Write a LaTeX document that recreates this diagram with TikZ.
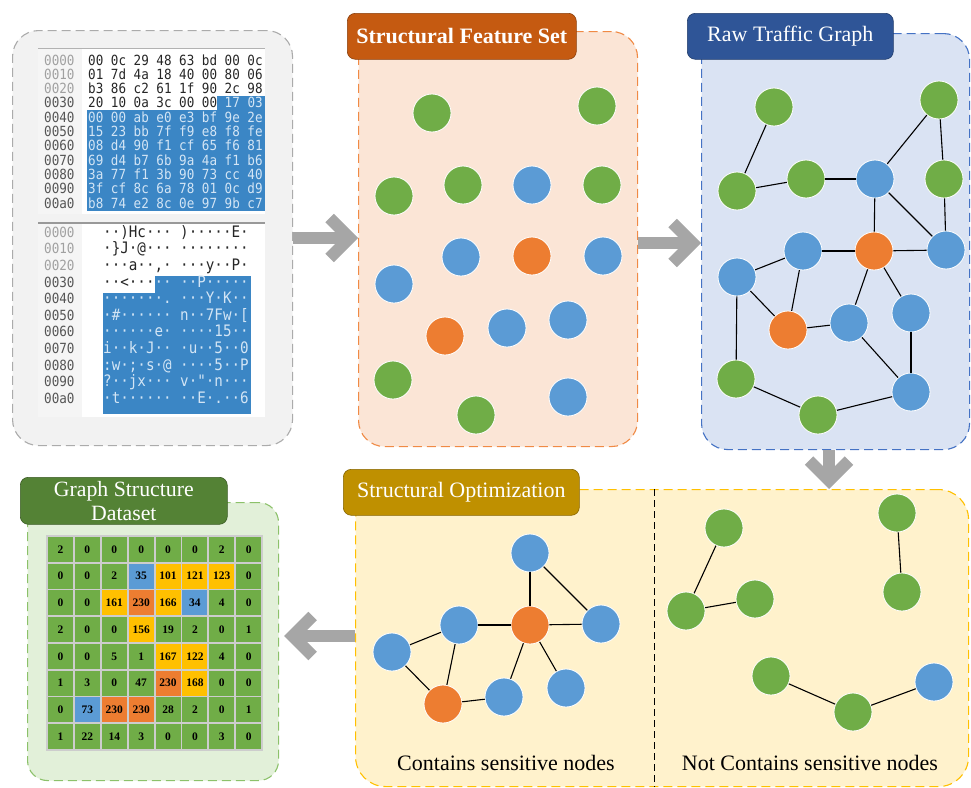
\documentclass[tikz,border=0pt]{standalone}
\usepackage{fontspec}
\setmainfont{Liberation Serif}
\setmonofont{DejaVu Sans Mono}[FakeStretch=0.9]
\usetikzlibrary{arrows.meta}
\definecolor{ngreen}{HTML}{70AD47}
\definecolor{nblue}{HTML}{5B9BD5}
\definecolor{norange}{HTML}{ED7D31}
\definecolor{nyellow}{HTML}{FFC000}
\definecolor{arrowgray}{HTML}{A6A6A6}
\definecolor{hexblue}{HTML}{3B86C5}
\definecolor{hexlight}{HTML}{D3E5F5}
\definecolor{hexdark}{HTML}{262626}
\definecolor{offgray}{HTML}{A0A0A0}
\definecolor{offdark}{HTML}{555555}
\definecolor{grayfill}{HTML}{F2F2F2}
\definecolor{grayline}{HTML}{ABABAB}
\definecolor{orangefill}{HTML}{FBE5D6}
\definecolor{orangeline}{HTML}{F08A45}
\definecolor{bluefill}{HTML}{DAE3F3}
\definecolor{blueline}{HTML}{4472C4}
\definecolor{yellowfill}{HTML}{FFF2CC}
\definecolor{yellowline}{HTML}{FFC000}
\definecolor{greenfill}{HTML}{E2F0D9}
\definecolor{greenline}{HTML}{8CC16A}
\definecolor{tOrange}{HTML}{C55A11}
\definecolor{tBlue}{HTML}{2F5597}
\definecolor{tGold}{HTML}{BF9000}
\definecolor{tGreen}{HTML}{548235}
\definecolor{gridgap}{HTML}{CDCDCD}
\definecolor{cellg}{HTML}{70AD47}
\definecolor{cellb}{HTML}{5B9BD5}
\definecolor{celly}{HTML}{FFC000}
\definecolor{cello}{HTML}{ED7D31}
\begin{document}
\begin{tikzpicture}[x=1pt,y=-1pt]
\tikzset{
  panel/.style={rectangle, rounded corners=26pt, dash pattern=on 9pt off 5pt,
    line width=1.1pt, inner sep=0pt, anchor=north west},
  titlebox/.style={rectangle, rounded corners=8pt, text=white, line width=0.6pt,
    inner sep=0pt, anchor=north west, align=center,
    font=\fontsize{22}{24}\selectfont},
  gnode/.style={circle, draw=white, line width=0.8pt, minimum size=38pt,
    inner sep=0pt, fill=ngreen},
  bnode/.style={gnode, fill=nblue},
  onode/.style={gnode, fill=norange},
  edge/.style={draw=black, line width=1.1pt},
  bigarrow/.style={draw=arrowgray, line width=12pt,
    -{Straight Barb[length=20pt, width=40pt]}},
  hexrow/.style={anchor=base west, inner sep=0pt, text=hexdark,
    font=\ttfamily\fontsize{14}{15}\selectfont},
  ascrow/.style={anchor=base west, inner sep=0pt, text=hexdark,
    font=\ttfamily\fontsize{15.8}{17}\selectfont},
  offrow/.style={anchor=base west, inner sep=0pt, text=offgray,
    font=\ttfamily\fontsize{14}{15}\selectfont},
  cell/.style={rectangle, minimum width=25pt, minimum height=25pt, inner sep=0pt,
    font=\bfseries\fontsize{11.5}{11.5}\selectfont},
  caption/.style={font=\fontsize{22}{24}\selectfont, inner sep=0pt},
}
\useasboundingbox (0,0) rectangle (971,787);

% ---------------- panels ----------------
\node[panel, draw=grayline, fill=grayfill, minimum width=280pt, minimum height=415pt] (p1) at (12,30) {};
\node[panel, draw=orangeline, fill=orangefill, minimum width=279pt, minimum height=415pt] (p2) at (358,31) {};
\node[panel, draw=blueline, fill=bluefill, minimum width=268pt, minimum height=416pt] (p3) at (701,33) {};
\node[panel, draw=yellowline, fill=yellowfill, minimum width=613pt, minimum height=297pt, rounded corners=30pt] (p4) at (355,489) {};
\node[panel, draw=greenline, fill=greenfill, minimum width=251pt, minimum height=278pt, rounded corners=20pt] (p5) at (27,502) {};

% divider in panel 4
\draw[black, line width=1pt, dash pattern=on 7pt off 4pt] (p4.north -| 654,0) -- (p4.south -| 654,0);

% ---------------- titles ----------------
\node[titlebox, fill=tOrange, draw=tOrange!70!black, minimum width=229pt, minimum height=46pt, font=\bfseries\fontsize{22}{24}\selectfont] (t2) at (347,13) {Structural Feature Set};
\node[titlebox, fill=tBlue, draw=tBlue!70!black, minimum width=206pt, minimum height=46pt] (t3) at (687,13) {Raw Traffic Graph};
\node[titlebox, fill=tGold, draw=tGold!70!black, minimum width=236pt, minimum height=46pt] (t4) at (343,469) {Structural Optimization};
\node[titlebox, fill=tGreen, draw=tGreen!70!black, minimum width=207pt, minimum height=47pt, font=\fontsize{21.8}{24}\selectfont] (t5) at (20,477) {Graph Structure\\Dataset};

% ---------------- hex dump (top) ----------------
\fill[white] (38,48) rectangle (265,214);
\fill[black!4] (38,48) rectangle (82,214);
\draw[black!30, line width=1pt] (38,48) -- (265,48);
\fill[hexblue] (217,96) rectangle (265,110);
\fill[hexblue] (87,110) rectangle (265,211);
\node[offrow] (ot0) at (44,65) {0000};
\node[offrow] (ot1) at (44,79.3) {0010};
\node[offrow] (ot2) at (44,93.6) {0020};
\node[offrow, text=offdark] (ot3) at (44,107.9) {0030};
\node[offrow, text=offdark] (ot4) at (44,122.2) {0040};
\node[offrow, text=offdark] (ot5) at (44,136.5) {0050};
\node[offrow, text=offdark] (ot6) at (44,150.8) {0060};
\node[offrow, text=offdark] (ot7) at (44,165.1) {0070};
\node[offrow, text=offdark] (ot8) at (44,179.4) {0080};
\node[offrow, text=offdark] (ot9) at (44,193.7) {0090};
\node[offrow, text=offdark] (ot10) at (44,208.0) {00a0};
\node[hexrow] (ht0) at (88,65) {00 0c 29 48 63 bd 00 0c};
\node[hexrow] (ht1) at (88,79.3) {01 7d 4a 18 40 00 80 06};
\node[hexrow] (ht2) at (88,93.6) {b3 86 c2 61 1f 90 2c 98};
\node[hexrow] (ht3) at (88,107.9) {20 10 0a 3c 00 00 \textcolor{hexlight}{17 03}};
\node[hexrow, text=hexlight] (ht4) at (88,122.2) {00 00 ab e0 e3 bf 9e 2e};
\node[hexrow, text=hexlight] (ht5) at (88,136.5) {15 23 bb 7f f9 e8 f8 fe};
\node[hexrow, text=hexlight] (ht6) at (88,150.8) {08 d4 90 f1 cf 65 f6 81};
\node[hexrow, text=hexlight] (ht7) at (88,165.1) {69 d4 b7 6b 9a 4a f1 b6};
\node[hexrow, text=hexlight] (ht8) at (88,179.4) {3a 77 f1 3b 90 73 cc 40};
\node[hexrow, text=hexlight] (ht9) at (88,193.7) {3f cf 8c 6a 78 01 0c d9};
\node[hexrow, text=hexlight] (ht10) at (88,208.0) {b8 74 e2 8c 0e 97 9b c7};

% ---------------- ascii dump (bottom) ----------------
\fill[white] (38,223) rectangle (265,417);
\fill[black!4] (38,223) rectangle (82,417);
\draw[black!40, line width=2pt] (38,223) -- (265,223);
\fill[hexblue] (155,276) rectangle (251,293);
\fill[hexblue] (103,293) rectangle (251,414);
\node[offrow] (ob0) at (44,237.2) {0000};
\node[offrow] (ob1) at (44,253.8) {0010};
\node[offrow] (ob2) at (44,270.4) {0020};
\node[offrow, text=offdark] (ob3) at (44,287.0) {0030};
\node[offrow, text=offdark] (ob4) at (44,303.6) {0040};
\node[offrow, text=offdark] (ob5) at (44,320.2) {0050};
\node[offrow, text=offdark] (ob6) at (44,336.8) {0060};
\node[offrow, text=offdark] (ob7) at (44,353.4) {0070};
\node[offrow, text=offdark] (ob8) at (44,370.0) {0080};
\node[offrow, text=offdark] (ob9) at (44,386.6) {0090};
\node[offrow, text=offdark] (ob10) at (44,403.2) {00a0};
\node[ascrow] (ab0) at (103,237.2) {··)Hc···~)·····E·};
\node[ascrow] (ab1) at (103,253.8) {·\}J·@···~········};
\node[ascrow] (ab2) at (103,270.4) {···a··,·~···y··P·};
\node[ascrow] (ab3) at (103,287.0) {··<···\textcolor{hexlight}{··~··P·····}};
\node[ascrow, text=hexlight] (ab4) at (103,303.6) {·······.~···Y·K··};
\node[ascrow, text=hexlight] (ab5) at (103,320.2) {·\#······~n··7Fw·[};
\node[ascrow, text=hexlight] (ab6) at (103,336.8) {······e·~····15··};
\node[ascrow, text=hexlight] (ab7) at (103,353.4) {i··k·J··~·u··5··0};
\node[ascrow, text=hexlight] (ab8) at (103,370.0) {:w·;·s·@~····5··P};
\node[ascrow, text=hexlight] (ab9) at (103,386.6) {?··jx···~v·"·n···};
\node[ascrow, text=hexlight] (ab10) at (103,403.2) {·t······~··E·.··6};

% ---------------- structural feature set ----------------
\node[gnode] (f1) at (432,113) {};
\node[gnode] (f2) at (597,106) {};
\node[gnode] (f3) at (394,196) {};
\node[gnode] (f4) at (463,185) {};
\node[bnode] (f5) at (532,185) {};
\node[gnode] (f6) at (602,185) {};
\node[bnode] (f7) at (461,257) {};
\node[onode] (f8) at (532,256) {};
\node[bnode] (f9) at (603,256) {};
\node[bnode] (f10) at (394,284) {};
\node[onode] (f11) at (445,336) {};
\node[bnode] (f12) at (507,328) {};
\node[bnode] (f13) at (568,320) {};
\node[gnode] (f14) at (393,380) {};
\node[gnode] (f15) at (476,415) {};
\node[bnode] (f16) at (568,397) {};

% ---------------- raw traffic graph ----------------
\node[gnode] (rA) at (774,107) {};
\node[gnode] (rB) at (939,100) {};
\node[gnode] (rC) at (737,191) {};
\node[gnode] (rD) at (806,179) {};
\node[bnode] (rE) at (875,179) {};
\node[gnode] (rF) at (944,179) {};
\node[bnode] (rG) at (803,251) {};
\node[onode] (rH) at (874,251) {};
\node[bnode] (rI) at (946,250) {};
\node[bnode] (rJ) at (737,277) {};
\node[onode] (rK) at (788,330) {};
\node[bnode] (rL) at (849,323) {};
\node[bnode] (rM) at (911,313) {};
\node[gnode] (rN) at (736,379) {};
\node[gnode] (rO) at (818,415) {};
\node[bnode] (rP) at (911,392) {};
\foreach \u/\v in {rA/rC, rC/rD, rD/rE, rE/rB, rB/rF, rF/rI, rE/rI, rE/rH, rH/rI,
  rG/rH, rJ/rG, rJ/rK, rG/rK, rK/rL, rL/rH, rH/rM, rM/rP, rL/rP, rJ/rN, rN/rO, rO/rP}
  \draw[edge] (\u) -- (\v);

% ---------------- structural optimization ----------------
\node[bnode] (sa) at (530,553) {};
\node[bnode] (sb) at (459,625) {};
\node[onode] (sc) at (530,625) {};
\node[bnode] (sd) at (601,624) {};
\node[bnode] (se) at (392,652) {};
\node[onode] (sf) at (443,704) {};
\node[bnode] (sg) at (504,697) {};
\node[bnode] (sh) at (566,688) {};
\foreach \u/\v in {sa/sc, sa/sd, sb/sc, sc/sd, se/sb, se/sf, sb/sf, sf/sg, sg/sc, sc/sh}
  \draw[edge] (\u) -- (\v);
\node[caption] (cap1) at (506,763) {Contains sensitive nodes};

\node[gnode] (np) at (724,528) {};
\node[gnode] (nq) at (686,611) {};
\node[gnode] (nr) at (755,599) {};
\node[gnode] (ns) at (897,513) {};
\node[gnode] (nt) at (902,592) {};
\node[gnode] (nu) at (771,676) {};
\node[gnode] (nv) at (853,712) {};
\node[bnode] (nw) at (934,682) {};
\foreach \u/\v in {np/nq, nq/nr, ns/nt, nu/nv, nv/nw}
  \draw[edge] (\u) -- (\v);
\node[caption] (cap2) at (810,763) {Not Contains sensitive nodes};

% ---------------- dataset grid ----------------
\fill[gridgap] (46,535) rectangle (263,751);
\foreach \row [count=\i] in {
  {2/g,0/g,0/g,0/g,0/g,0/g,2/g,0/g},
  {0/g,0/g,2/g,35/b,101/y,121/y,123/y,0/g},
  {0/g,0/g,161/y,230/o,166/y,34/b,4/g,0/g},
  {2/g,0/g,0/g,156/y,19/g,2/g,0/g,1/g},
  {0/g,0/g,5/g,1/g,167/y,122/y,4/g,0/g},
  {1/g,3/g,0/g,47/g,230/o,168/y,0/g,0/g},
  {0/g,73/b,230/o,230/o,28/g,2/g,0/g,1/g},
  {1/g,22/g,14/g,3/g,0/g,0/g,3/g,0/g}}
{
  \foreach \v/\c [count=\j] in \row
    \node[cell, fill=cell\c] (m-\i-\j) at ({47+26.9*(\j-0.5)},{536+26.75*(\i-0.5)}) {\v};
}

% ---------------- arrows ----------------
\draw[bigarrow] (p1.east |- 0,238) -- (p2.west |- 0,238);
\draw[bigarrow] (p2.east |- 0,243) -- (p3.west |- 0,243);
\draw[bigarrow] (p3.south -| 829,0) -- (p4.north -| 829,0);
\draw[bigarrow] (p4.west |- 0,636) -- ([xshift=5pt]p5.east |- 0,636);
\end{tikzpicture}
\end{document}
